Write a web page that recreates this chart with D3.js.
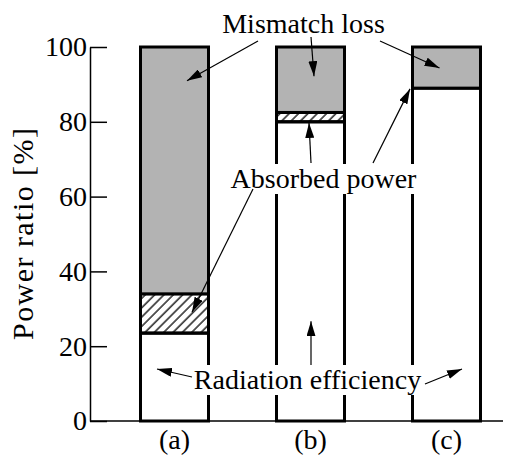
<!DOCTYPE html>
<html>
<head>
<meta charset="utf-8">
<script src="https://cdn.jsdelivr.net/npm/d3@7"></script>
<style>
  body { margin: 0; background: #fff; }
  svg { display: block; font-family: "Liberation Serif", "Times New Roman", Times, "DejaVu Serif", serif; }
</style>
</head>
<body>
<div id="chart"></div>
<script>
const categories = ['(a)', '(b)', '(c)'];
const radiation = [23.5, 80, 89];
const absorbed = [10.5, 2.5, 0];
const mismatch = [66, 17.5, 11];
const yTicks = [0, 20, 40, 60, 80, 100];

// annotation labels and the arrows that leave them
const labels = ['Mismatch loss', 'Absorbed power', 'Radiation efficiency'];
const labelX = [303.5, 323.5, 307.5];
const labelY = [33, 188, 389];
// arrow: label index, start point, target bar, dx from bar centre, value at tip
const arrows = [
  [0, 258, 41, '(a)', 12.5, 91],
  [0, 311, 37, '(b)', 3.5, 92.2],
  [0, 380, 41, '(c)', -7, 94.4],
  [1, 253, 189, '(a)', 17.5, 29.1],
  [1, 311, 163, '(b)', -1.5, 79.7],
  [1, 373, 163, '(c)', -36.5, 88.8],
  [2, 192, 377, '(a)', -17.5, 13.9],
  [2, 311, 365, '(b)', 0.5, 26.7],
  [2, 425, 384, '(c)', 15.5, 13.9]
];

const width = 505, height = 456;
const serif = '"Liberation Serif", "Times New Roman", Times, serif';

const svg = d3.select('#chart').append('svg')
  .attr('width', width)
  .attr('height', height);

const defs = svg.append('defs');
defs.append('pattern')
    .attr('id', 'hatch')
    .attr('patternUnits', 'userSpaceOnUse')
    .attr('width', 6.6)
    .attr('height', 6.6)
    .attr('patternTransform', 'rotate(45)')
  .append('line')
    .attr('x1', 1).attr('y1', 0)
    .attr('x2', 1).attr('y2', 6.6)
    .attr('stroke', '#000')
    .attr('stroke-width', 1.3);

defs.append('marker')
    .attr('id', 'head')
    .attr('markerUnits', 'userSpaceOnUse')
    .attr('viewBox', '0 0 15 9')
    .attr('refX', 15).attr('refY', 4.5)
    .attr('markerWidth', 15).attr('markerHeight', 9)
    .attr('orient', 'auto')
  .append('path')
    .attr('d', 'M0,0L15,4.5L0,9Z')
    .attr('fill', '#000');

const xScale = d3.scaleBand()
  .domain(categories)
  .range([72.5, 548.5])
  .paddingInner(0.5)
  .paddingOuter(0.5);

const yScale = d3.scaleLinear()
  .domain([0, 100])
  .range([421, 47]);

const rows = categories.map((c, i) => ({
  cat: c, radiation: radiation[i], absorbed: absorbed[i], mismatch: mismatch[i]
}));
const series = d3.stack().keys(['radiation', 'absorbed', 'mismatch'])(rows);
const fills = { radiation: '#fff', absorbed: 'url(#hatch)', mismatch: '#b3b3b3' };

svg.append('g')
  .selectAll('g')
  .data(series)
  .join('g')
    .attr('fill', d => fills[d.key])
  .selectAll('rect')
  .data(d => d)
  .join('rect')
    .attr('x', d => xScale(d.data.cat))
    .attr('y', d => yScale(d[1]))
    .attr('width', xScale.bandwidth())
    .attr('height', d => yScale(d[0]) - yScale(d[1]))
    .attr('stroke', '#000')
    .attr('stroke-width', 3);

// y axis, ticks pointing inward
const yAxis = svg.append('g')
  .attr('transform', 'translate(90,0)')
  .call(d3.axisLeft(yScale).tickValues(yTicks).tickSize(-17).tickSizeOuter(0).tickPadding(3));
yAxis.select('.domain').attr('stroke-width', 1.5);
yAxis.selectAll('.tick line').attr('stroke-width', 1.5);
yAxis.selectAll('text')
  .attr('font-family', serif)
  .attr('font-size', 28)
  .attr('fill', '#000');

// x axis: baseline plus category labels
svg.append('line')
  .attr('x1', 90).attr('x2', 503)
  .attr('y1', yScale(0)).attr('y2', yScale(0))
  .attr('stroke', '#000')
  .attr('stroke-width', 1.5);
const xAxis = svg.append('g')
  .attr('transform', `translate(0,${yScale(0)})`)
  .call(d3.axisBottom(xScale).tickSize(0).tickPadding(8));
xAxis.select('.domain').remove();
xAxis.selectAll('text')
  .attr('font-family', serif)
  .attr('font-size', 28)
  .attr('fill', '#000');

svg.append('text')
  .attr('transform', 'translate(33,234) rotate(-90)')
  .attr('text-anchor', 'middle')
  .attr('font-family', serif)
  .attr('font-size', 30)
  .attr('textLength', 212)
  .attr('lengthAdjust', 'spacing')
  .text('Power ratio [%]');

// annotation labels with white backing
const ann = svg.append('g');
labels.forEach((t, i) => {
  const g = ann.append('g');
  const bg = g.append('rect').attr('fill', '#fff');
  const txt = g.append('text')
    .attr('x', labelX[i])
    .attr('y', labelY[i])
    .attr('text-anchor', 'middle')
    .attr('font-family', serif)
    .attr('font-size', 28)
    .text(t);
  const b = txt.node().getBBox();
  bg.attr('x', b.x - 2).attr('y', b.y + 1)
    .attr('width', b.width + 4).attr('height', b.height - 1);
});

ann.selectAll('line.arrow')
  .data(arrows)
  .join('line')
    .attr('class', 'arrow')
    .attr('x1', d => d[1])
    .attr('y1', d => d[2])
    .attr('x2', d => xScale(d[3]) + xScale.bandwidth() / 2 + d[4])
    .attr('y2', d => yScale(d[5]))
    .attr('stroke', '#000')
    .attr('stroke-width', 1.2)
    .attr('marker-end', 'url(#head)');
</script>
</body>
</html>
